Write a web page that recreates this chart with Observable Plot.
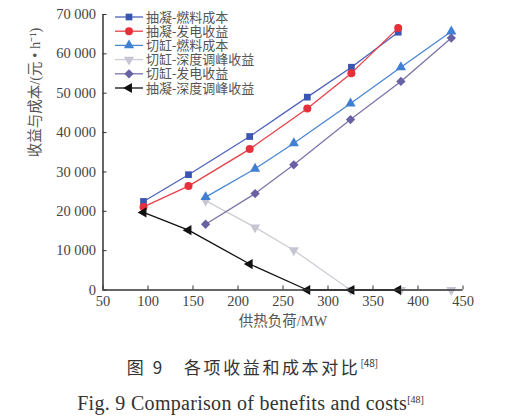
<!DOCTYPE html>
<html><head><meta charset="utf-8">
<script src="https://cdn.jsdelivr.net/npm/d3@7"></script>
<script src="https://cdn.jsdelivr.net/npm/@observablehq/plot@0.6"></script>
<style>
body{margin:0;background:#fff;}
#wrap{position:relative;width:513px;height:419px;}
#chart svg text{font-family:"Liberation Serif","Noto Sans CJK SC",serif !important;}
.cap{position:absolute;left:0;width:513px;text-align:center;color:#333;}
#c1{top:351px;font-family:"Noto Sans CJK SC",sans-serif;font-size:17px;line-height:24px;letter-spacing:2.6px;padding-right:8px;box-sizing:border-box;}
#c2{top:388px;font-family:"Liberation Serif",serif;font-size:20px;line-height:24px;letter-spacing:0.3px;padding-right:12px;box-sizing:border-box;}
sup{font-size:10px;vertical-align:7px;letter-spacing:0;}
</style></head>
<body><div id="wrap"><div id="chart"></div>
<div class="cap" id="c1">图 9&nbsp;&nbsp;&nbsp;各项收益和成本对比<sup>[48]</sup></div>
<div class="cap" id="c2">Fig. 9 Comparison of benefits and costs<sup>[48]</sup></div>
</div>
<script>
const seriesNames = ["抽凝-燃料成本","抽凝-发电收益","切缸-燃料成本","切缸-深度调峰收益","切缸-发电收益","抽凝-深度调峰收益"];
const xCondense = [95, 145, 213, 277, 326, 378];
const xCut = [164, 219, 262, 325, 381, 437];
const condenseFuelCost = [22500, 29300, 39000, 49000, 56600, 65500];
const condensePowerRevenue = [21100, 26400, 35800, 46100, 55100, 66600];
const cutFuelCost = [23600, 30800, 37300, 47400, 56600, 65700];
const cutPeakRevenue = [22700, 15900, 10100, 0, 0, 0];
const cutPowerRevenue = [16700, 24500, 31800, 43300, 53000, 64000];
const condensePeakRevenue = [19700, 15200, 6600, 0, 0, 0];
const xTicks = [50, 100, 150, 200, 250, 300, 350, 400, 450];
const yTicks = [0, 10000, 20000, 30000, 40000, 50000, 60000, 70000];

const downTri = {draw(ctx, size){const s=Math.sqrt(4*size/Math.sqrt(3)), R=s/Math.sqrt(3); ctx.moveTo(0,R); ctx.lineTo(-s/2,-R/2); ctx.lineTo(s/2,-R/2); ctx.closePath();}};
const leftTri = {draw(ctx, size){const s=Math.sqrt(4*size/Math.sqrt(3)), R=s/Math.sqrt(3); ctx.moveTo(-R,0); ctx.lineTo(R/2,-s/2); ctx.lineTo(R/2,s/2); ctx.closePath();}};

const styles = [
  {xs:xCondense, ys:condenseFuelCost, line:"#4c63bb", fill:"#3a55b2", symbol:d3.symbolSquare, r:3.8},
  {xs:xCondense, ys:condensePowerRevenue, line:"#e8404a", fill:"#e8303c", symbol:d3.symbolCircle, r:4},
  {xs:xCut, ys:cutFuelCost, line:"#4a86d6", fill:"#3f7fd4", symbol:d3.symbolTriangle, r:3.8},
  {xs:xCut, ys:cutPeakRevenue, line:"#cdcdd6", fill:"#c6c6d2", symbol:downTri, r:3.8},
  {xs:xCut, ys:cutPowerRevenue, line:"#7a74aa", fill:"#6862a4", symbol:d3.symbolDiamond2, r:4.2},
  {xs:xCondense, ys:condensePeakRevenue, line:"#111", fill:"#111", symbol:leftTri, r:3.8}
];
const drawOrder = [3, 0, 1, 2, 4, 5];
const rowsOf = i => styles[i].xs.map((x, j) => ({series: seriesNames[i], x, y: styles[i].ys[j]}));

const fmt = d => d3.format(",")(d).replace(/,/g, " ");
const tickFont = {fontSize: 14.5, fill: "#444"};

const marks = [];
for (const i of drawOrder) {
  const rows = rowsOf(i);
  marks.push(Plot.line(rows, {x: "x", y: "y", stroke: styles[i].line, strokeWidth: 1.3}));
  marks.push(Plot.dot(rows, {x: "x", y: "y", symbol: styles[i].symbol, r: styles[i].r, fill: styles[i].fill, stroke: "none"}));
}

const svg = Plot.plot({
  width: 513, height: 340,
  marginLeft: 102.5, marginRight: 50.5, marginTop: 14, marginBottom: 50.5,
  style: {background: "#fff", overflow: "visible"},
  x: {domain: [xTicks[0], xTicks[xTicks.length-1]]},
  y: {domain: [yTicks[0], yTicks[yTicks.length-1]]},
  marks: [
    Plot.axisX(xTicks, {anchor: "bottom", tickSize: -4, tickPadding: 10, stroke: "#333", label: null, ...tickFont}),
    Plot.axisY(yTicks, {anchor: "left", tickSize: -4, tickPadding: 11, tickFormat: fmt, stroke: "#333", label: null, ...tickFont}),
    ...marks,
    Plot.ruleX([xTicks[0]], {y1: yTicks[0], y2: yTicks[yTicks.length-1], stroke: "#333", strokeWidth: 1.5}),
    Plot.ruleY([yTicks[0]], {x1: xTicks[0], x2: xTicks[xTicks.length-1], stroke: "#333", strokeWidth: 1.5}),
    Plot.text(["供热负荷/MW"], {frameAnchor: "bottom", dy: 36, text: d => d, fontSize: 14.5, fill: "#555"}),
    Plot.text(["收益与成本/(元 • h⁻¹)"], {frameAnchor: "left", rotate: -90, dx: -68, dy: 5, text: d => d, fontSize: 14.5, fill: "#555"})
  ]
});

// legend inside plot, top-left
const lg = d3.select(svg).append("g").attr("font-size", 13).attr("text-anchor", "start");
seriesNames.forEach((name, i) => {
  const y = 17 + i * 14.2, s = styles[i];
  lg.append("line").attr("x1", 115).attr("x2", 143).attr("y1", y).attr("y2", y).attr("stroke", s.line).attr("stroke-width", 1.3);
  lg.append("path").attr("d", d3.symbol(s.symbol, Math.PI * s.r * s.r)()).attr("transform", `translate(129,${y})`).attr("fill", s.fill);
  lg.append("text").attr("x", 146).attr("y", y).attr("dy", "0.35em").attr("fill", "#555").attr("text-anchor", "start").text(name);
});
document.getElementById("chart").appendChild(svg);
</script></body></html>
